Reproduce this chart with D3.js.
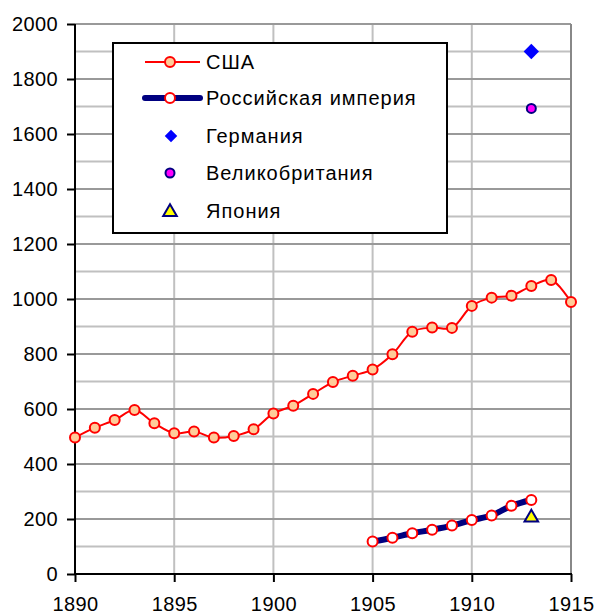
<!DOCTYPE html>
<html><head><meta charset="utf-8">
<script src="https://cdn.jsdelivr.net/npm/d3@7"></script>
<style>body{margin:0;background:#fff}svg{display:block}</style>
</head><body>
<svg id="c" width="597" height="614"></svg>
<script>
const usaYears = [1890,1891,1892,1893,1894,1895,1896,1897,1898,1899,1900,1901,1902,1903,1904,1905,1906,1907,1908,1909,1910,1911,1912,1913,1914,1915];
const usaValues = [496,532,560,596,548,512,518,496,502,526,584,612,655,698,721,744,799,881,896,895,975,1005,1012,1047,1069,989];
const rusYears = [1905,1906,1907,1908,1909,1910,1911,1912,1913];
const rusValues = [118,132,148,161,176,196,213,248,269];
const germany = [[1913,1900]];
const britain = [[1913,1693]];
const japan = [[1913,205]];
const legendLabels = ["США","Российская империя","Германия","Великобритания","Япония"];
const xTicks = [1890,1895,1900,1905,1910,1915];
const yTicks = [0,200,400,600,800,1000,1200,1400,1600,1800,2000];

const svg = d3.select("#c");
const font = "'Liberation Sans', Arial, sans-serif";
const x = d3.scaleLinear().domain([1890,1915]).range([75,571]);
const y = d3.scaleLinear().domain([0,2000]).range([574,24]);

// gridlines
const g = svg.append("g");
g.selectAll(".minor").data(d3.range(100,2000,200)).join("line")
  .attr("x1",75).attr("x2",571).attr("y1",d=>y(d)).attr("y2",d=>y(d))
  .attr("stroke","#c0c0c0").attr("stroke-width",2);
g.selectAll(".vg").data(xTicks.slice(1,-1)).join("line")
  .attr("x1",d=>x(d)).attr("x2",d=>x(d)).attr("y1",24).attr("y2",574)
  .attr("stroke","#c0c0c0").attr("stroke-width",2);
g.selectAll(".major").data(yTicks.slice(1)).join("line")
  .attr("x1",75).attr("x2",571).attr("y1",d=>y(d)).attr("y2",d=>y(d))
  .attr("stroke","#999").attr("stroke-width",2);
g.append("line").attr("x1",x(1915)).attr("x2",x(1915)).attr("y1",24).attr("y2",574)
  .attr("stroke","#888").attr("stroke-width",2);

// axes
const xAxis = svg.append("g").attr("transform","translate(0,574)")
  .call(d3.axisBottom(x).tickValues(xTicks).tickFormat(d3.format("d")).tickSize(8).tickPadding(15));
const yAxis = svg.append("g").attr("transform","translate(75,0)")
  .call(d3.axisLeft(y).tickValues(yTicks).tickFormat(d3.format("d")).tickSize(8).tickPadding(9));
[xAxis,yAxis].forEach(a=>{
  a.selectAll("path,line").attr("stroke","#000").attr("stroke-width",2);
  a.selectAll("text").attr("font-family",font).attr("font-size",20).attr("letter-spacing","0.4px").attr("fill","#000");
  a.select(".domain").attr("d", null);
});
svg.append("line").attr("x1",75).attr("x2",75).attr("y1",24).attr("y2",575).attr("stroke","#000").attr("stroke-width",2);
svg.append("line").attr("x1",74).attr("x2",572).attr("y1",574).attr("y2",574).attr("stroke","#000").attr("stroke-width",2);

const curve = d3.curveCatmullRom.alpha(0.5);
const usa = usaYears.map((d,i)=>[d,usaValues[i]]);
const rus = rusYears.map((d,i)=>[d,rusValues[i]]);
const line = d3.line().x(d=>x(d[0])).y(d=>y(d[1])).curve(curve);

svg.append("path").attr("d",line(rus)).attr("fill","none").attr("stroke","#000080").attr("stroke-width",6);
svg.selectAll(".rp").data(rus).join("circle").attr("cx",d=>x(d[0])).attr("cy",d=>y(d[1])).attr("r",5)
  .attr("fill","#fff").attr("stroke","#f00").attr("stroke-width",2);

svg.append("path").attr("d",line(usa)).attr("fill","none").attr("stroke","#f00").attr("stroke-width",2);
svg.selectAll(".up").data(usa).join("circle").attr("cx",d=>x(d[0])).attr("cy",d=>y(d[1])).attr("r",5)
  .attr("fill","#ffcc99").attr("stroke","#f00").attr("stroke-width",2);

const diamond = d3.symbol().type(d3.symbolDiamond2).size(150);
const tri = d3.symbol().type(d3.symbolTriangle).size(80);
svg.selectAll(".ge").data(germany).join("path").attr("d",diamond)
  .attr("transform",d=>`translate(${x(d[0])},${y(d[1])})`).attr("fill","#0000ff");
svg.selectAll(".gb").data(britain).join("circle").attr("cx",d=>x(d[0])).attr("cy",d=>y(d[1])).attr("r",4.5)
  .attr("fill","#ff00ff").attr("stroke","#000080").attr("stroke-width",2);
svg.selectAll(".jp").data(japan).join("path").attr("d",tri)
  .attr("transform",d=>`translate(${x(d[0])},${y(d[1])})`).attr("fill","#ffff00").attr("stroke","#000080").attr("stroke-width",2);

// legend
const lg = svg.append("g");
lg.append("rect").attr("x",113).attr("y",43).attr("width",334).attr("height",190)
  .attr("fill","#fff").attr("stroke","#000").attr("stroke-width",2);
const ly = [62,98,136,173,211];
lg.append("line").attr("x1",145).attr("x2",200).attr("y1",ly[0]).attr("y2",ly[0]).attr("stroke","#f00").attr("stroke-width",2);
lg.append("circle").attr("cx",170).attr("cy",ly[0]).attr("r",5).attr("fill","#ffcc99").attr("stroke","#f00").attr("stroke-width",2);
lg.append("line").attr("x1",145).attr("x2",200).attr("y1",ly[1]).attr("y2",ly[1]).attr("stroke","#000080").attr("stroke-width",6).attr("stroke-linecap","round");
lg.append("circle").attr("cx",170).attr("cy",ly[1]).attr("r",5).attr("fill","#fff").attr("stroke","#f00").attr("stroke-width",2);
lg.append("path").attr("d",d3.symbol().type(d3.symbolDiamond2).size(100)).attr("transform",`translate(171,${ly[2]})`).attr("fill","#0000ff");
lg.append("circle").attr("cx",170).attr("cy",ly[3]).attr("r",4.5).attr("fill","#ff00ff").attr("stroke","#000080").attr("stroke-width",2);
lg.append("path").attr("d",tri).attr("transform",`translate(170,${ly[4]+1})`).attr("fill","#ffff00").attr("stroke","#000080").attr("stroke-width",2);
lg.selectAll("text").data(legendLabels).join("text")
  .attr("x",206).attr("y",(d,i)=>ly[i]).attr("dy","0.35em")
  .attr("font-family",font).attr("font-size",20).attr("letter-spacing","1px").attr("fill","#000").text(d=>d);
</script>
</body></html>
